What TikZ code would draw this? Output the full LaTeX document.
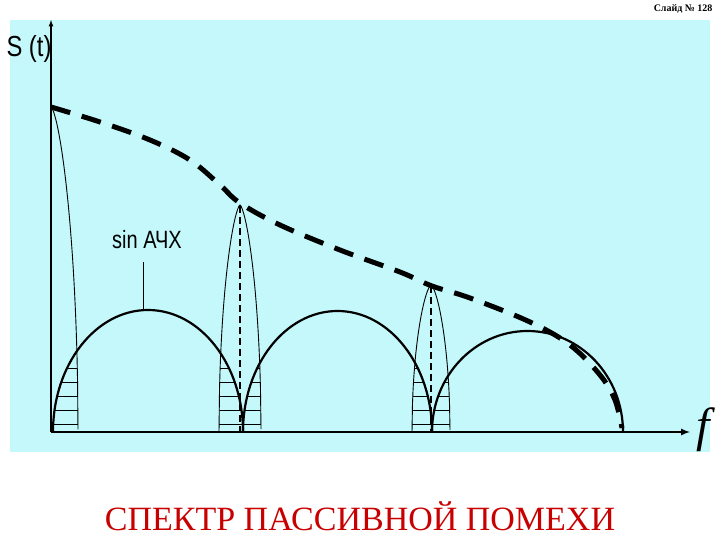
\documentclass[tikz,border=0pt]{standalone}
\usepackage{fontspec}
\setmainfont{Liberation Serif}
\newfontfamily\arialf{Liberation Sans}
\begin{document}
\begin{tikzpicture}[x=1pt,y=-1pt,
  curve/.style={line width=2.2pt},
  lobe/.style={line width=0.9pt},
  hatch/.style={line width=0.7pt},
  env/.style={line width=5pt,dash pattern=on 20pt off 12pt}]
\useasboundingbox (0,0) rectangle (720,540);
\fill[fill={rgb,255:red,196;green,248;blue,250}] (10,20) rectangle (710,452);
\node[anchor=north east,font=\bfseries\fontsize{10}{11}\selectfont] (slide) at (716,1) {Слайд № 128};
% hatching
\begin{scope}
\clip (53,432) arc[start angle=180,end angle=0,x radius=95,y radius=-122]
      arc[start angle=180,end angle=0,x radius=94.5,y radius=-121]
      arc[start angle=180,end angle=0,x radius=95.5,y radius=-101] -- cycle;
\clip (51,432) -- (51,107) -- plot[domain=51:78,samples=40] (\x,{432-325*sqrt(max(0,1-pow(abs((\x-51)/27),1.5)))}) -- cycle
      (219,432) -- plot[domain=219:261,samples=60] (\x,{432-227*sqrt(max(0,1-pow(abs((\x-240)/21),1.5)))}) -- cycle
      (412,432) -- plot[domain=412:450,samples=60] (\x,{432-147*sqrt(max(0,1-pow(abs((\x-431)/19),1.5)))}) -- cycle;
\foreach \y in {368,382,396,410,424}{\draw[hatch] (40,\y) -- (470,\y);}
\end{scope}
% big arches
\draw[curve] (53,432) arc[start angle=180,end angle=0,x radius=95,y radius=-122];
\draw[curve] (243,432) arc[start angle=180,end angle=0,x radius=94.5,y radius=-121];
\draw[curve] (432,432) arc[start angle=180,end angle=0,x radius=95.5,y radius=-101];
% narrow lobes
\draw[lobe] plot[domain=51:78,samples=60] (\x,{432-325*sqrt(max(0,1-pow(abs((\x-51)/27),1.5)))});
\draw[lobe] plot[domain=219:261,samples=80] (\x,{432-227*sqrt(max(0,1-pow(abs((\x-240)/21),1.5)))});
\draw[lobe] plot[domain=412:450,samples=80] (\x,{432-147*sqrt(max(0,1-pow(abs((\x-431)/19),1.5)))});
\draw[lobe,line width=1.1pt,dash pattern=on 7pt off 4pt] (240,206) -- (240,432);
\draw[lobe,line width=1.1pt,dash pattern=on 7pt off 4pt] (431,286) -- (431,432);
% envelope
\draw[env] plot[smooth,tension=0.6] coordinates {(51,107) (100,122) (150,140) (190,160) (220,185) (240,203) (280,225) (340,250) (400,272) (432,286) (470,298) (530,322) (570,345) (600,375) (615,400) (622,428)};
% axes
\coordinate (o) at (51,432);
\coordinate (ytop) at (51,20);
\coordinate (xend) at (690,432);
\draw[line width=1.2pt,-latex] (o) -- (ytop);
\draw[line width=2pt,-latex] (o) -- (xend);
\node[font=\arialf\fontsize{29}{30}\selectfont,xscale=0.82] (S) at (29,49) {S (t)};
\node[font=\itshape\fontsize{48}{48}\selectfont] (f) at (703,430) {f};
\node[font=\arialf\fontsize{25}{26}\selectfont,xscale=0.8] (sin) at (147,240) {sin АЧХ};
\coordinate (lead) at (143,309);
\draw[line width=0.8pt] (143,262) -- (lead);
\node[text={rgb,255:red,200;green,0;blue,0},font=\fontsize{34}{36}\selectfont] (title) at (360,516) {СПЕКТР ПАССИВНОЙ ПОМЕХИ};
\end{tikzpicture}
\end{document}
